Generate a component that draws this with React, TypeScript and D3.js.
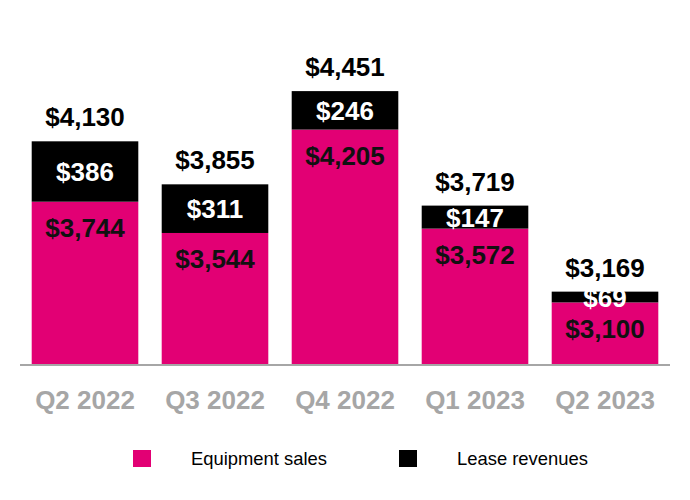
import React from "react";
import * as d3 from "d3";

const categories = ["Q2 2022", "Q3 2022", "Q4 2022", "Q1 2023", "Q2 2023"];
const equipmentSales = [3744, 3544, 4205, 3572, 3100];
const leaseRevenues = [386, 311, 246, 147, 69];
const totals = [4130, 3855, 4451, 3719, 3169];
const seriesNames = ["Equipment sales", "Lease revenues"];

const W = 690;
const H = 500;
const MAGENTA = "#E20074";
const GRAY = "#A6A6A6";
const FONT = "'Liberation Sans', Arial, sans-serif";

const fmt = (v: number) => "$" + d3.format(",")(v);

export default function App() {
  const x = d3.scaleBand<string>().domain(categories).range([20, 670]).paddingInner(0.18).paddingOuter(0.09);
  const y = d3.scaleLinear().domain([2700, 4600]).range([365, 67.8]);
  const bw = x.bandwidth();

  return (
    <svg width={W} height={H} style={{ position: "absolute", left: 0, top: 0, background: "#fff" }} fontFamily={FONT}>
      {categories.map((c, i) => {
        const x0 = x(c)!;
        const cx = x0 + bw / 2;
        const yEq = y(equipmentSales[i]);
        const yTot = y(equipmentSales[i] + leaseRevenues[i]);
        return (
          <g key={c}>
            <rect x={x0} y={yEq} width={bw} height={y.range()[0] - yEq} fill={MAGENTA} />
            <rect x={x0} y={yTot} width={bw} height={yEq - yTot} fill="#000" />
            <text x={cx} y={(yEq + yTot) / 2} dy="0.37em" textAnchor="middle" fill="#fff" fontWeight="bold" fontSize={26}>
              {fmt(leaseRevenues[i])}
            </text>
            <text x={cx} y={yEq + 35.5} textAnchor="middle" fill="#111" fontWeight="bold" fontSize={26}>
              {fmt(equipmentSales[i])}
            </text>
            <text x={cx} y={y(totals[i]) - 15} textAnchor="middle" fill="#000" fontWeight="bold" fontSize={26}>
              {fmt(totals[i])}
            </text>
            <text x={cx} y={409} textAnchor="middle" fill={GRAY} fontWeight="bold" fontSize={26}>
              {c}
            </text>
          </g>
        );
      })}
      <line x1={20} x2={670} y1={365} y2={365} stroke={GRAY} strokeWidth={2} />
      {seriesNames.map((n, i) => {
        const lx = i === 0 ? 133 : 399;
        return (
          <g key={n}>
            <rect x={lx} y={450} width={18} height={17} fill={i === 0 ? MAGENTA : "#000"} />
            <text x={lx + 58} y={465} fill="#000" fontSize={18.4}>
              {n}
            </text>
          </g>
        );
      })}
    </svg>
  );
}
